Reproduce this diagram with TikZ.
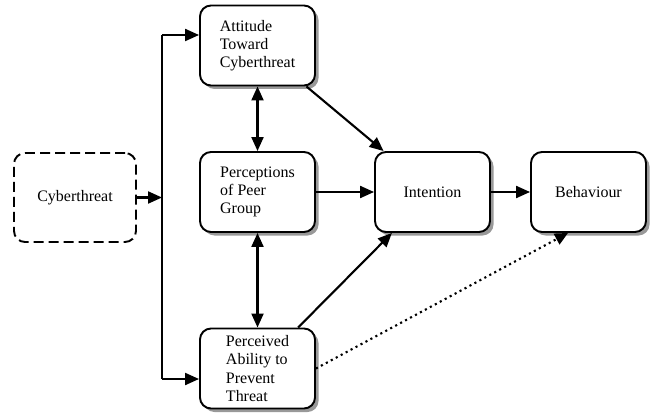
\documentclass[tikz,border=0pt]{standalone}
\usepackage{fontspec}
\setmainfont{Liberation Serif}
\usetikzlibrary{arrows.meta,shadows}
\tikzstyle{box} = [draw, line width=1.1pt, rounded corners=0.22cm, fill=white,
  minimum width=2.3cm, minimum height=1.6cm, inner sep=2pt, align=left,
  drop shadow={shadow xshift=0.07cm, shadow yshift=-0.07cm, fill=black!40, opacity=1}]
\tikzstyle{dashbox} = [draw, line width=1.1pt, rounded corners=0.22cm, fill=white,
  dash pattern=on 0.2cm off 0.1cm, minimum width=2.44cm, minimum height=1.78cm]
\tikzstyle{edge} = [line width=1.2pt]
\tikzstyle{diredge} = [line width=1.2pt, -{Triangle[length=0.28cm,width=0.24cm]}]
\tikzstyle{biedge} = [line width=1.2pt, {Triangle[length=0.28cm,width=0.24cm]}-{Triangle[length=0.28cm,width=0.24cm]}]
\tikzstyle{dotedge} = [line width=1.2pt, dotted, -{Triangle[length=0.26cm,width=0.24cm]}]

\begin{document}
\begin{tikzpicture}[every node/.style={font=\fontsize{9.1pt}{10.4pt}\selectfont}]
    \useasboundingbox (0,0) rectangle (13.08,8.28);
    \node[dashbox] (cyber) at (1.5,4.33) {Cyberthreat};
    \node[box] (attitude) at (5.15,7.37) {Attitude\\Toward\\Cyberthreat};
    \node[box] (peer) at (5.15,4.44) {Perceptions\\of Peer\\Group};
    \node[box] (ability) at (5.15,0.91) {Perceived\\Ability to\\Prevent\\Threat};
    \node[box,align=center] (intention) at (8.65,4.44) {Intention};
    \node[box,align=center] (behaviour) at (11.77,4.44) {Behaviour};
    \coordinate (split) at (3.24,4.33);
    \coordinate (top) at (3.24,7.58);
    \coordinate (bottom) at (3.24,0.70);
    \draw[diredge] (cyber) -- (split);
    \draw[edge] (top) -- (bottom);
    \draw[diredge] (top) -- (top -| attitude.west);
    \draw[diredge] (bottom) -- (bottom -| ability.west);
    \draw[biedge] (attitude) -- (peer);
    \draw[biedge] (peer) -- (ability);
    \draw[diredge] (attitude) -- (intention);
    \draw[diredge] (peer) -- (intention);
    \draw[diredge] (ability) -- (intention);
    \draw[diredge] (intention) -- (behaviour);
    \draw[dotedge] (ability.east) -- ([xshift=-0.41cm]behaviour.south);
\end{tikzpicture}
\end{document}
